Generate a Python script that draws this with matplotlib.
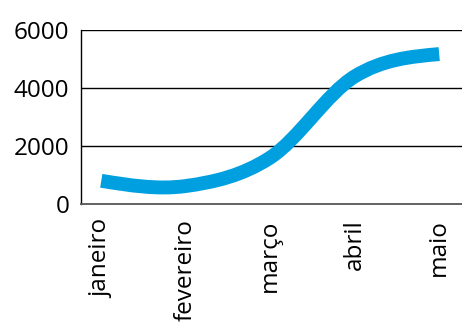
import matplotlib
matplotlib.use("Agg")
import matplotlib.pyplot as plt
from matplotlib.path import Path
from matplotlib.patches import PathPatch

categories = ["janeiro", "fevereiro", "março", "abril", "maio"]
values = [800, 620, 1600, 4400, 5170]
yticks = [0, 2000, 4000, 6000]

plt.rcParams['font.family'] = ['Open Sans', 'DejaVu Sans']

fig = plt.figure(figsize=(4.62, 3.22), dpi=100)
ax = fig.add_axes([81/462, 1-204/322, 1-81/462, (204-30)/322])

# smooth curve: cubic Bezier through the data points (Catmull-Rom inner
# tangents, natural end conditions)
xs = list(range(len(values)))
n = len(values)
def tangent(i):
    if i == 0:
        inner = (values[2] - values[0]) / 2
        return (3 * (values[1] - values[0]) - inner) / 2
    if i == n - 1:
        inner = (values[-1] - values[-3]) / 2
        return (3 * (values[-1] - values[-2]) - inner) / 2
    return (values[i+1] - values[i-1]) / 2
verts = [(xs[0], values[0])]
codes = [Path.MOVETO]
for i in range(n - 1):
    t0 = tangent(i); t1 = tangent(i + 1)
    verts += [(xs[i] + 1/3, values[i] + t0/3),
              (xs[i+1] - 1/3, values[i+1] - t1/3),
              (xs[i+1], values[i+1])]
    codes += [Path.CURVE4] * 3
patch = PathPatch(Path(verts, codes), facecolor='none', edgecolor='#009fe0',
                  linewidth=10, capstyle='butt', zorder=3)
ax.add_patch(patch)

ax.set_xlim(-0.24, 4.27)
ax.set_ylim(0, 6000)
ax.set_yticks(yticks)
ax.set_yticklabels([str(v) for v in yticks], fontsize=17.5)
ax.set_xticks(xs)
ax.set_xticklabels(categories, rotation=90, fontsize=17.5)
ax.tick_params(axis='both', length=0, colors='black')
ax.tick_params(axis='y', pad=8.5)
ax.tick_params(axis='x', pad=11)
for v in yticks[1:]:
    ax.axhline(v, color='black', linewidth=1.0, zorder=1)
ax.spines['top'].set_visible(False)
ax.spines['right'].set_visible(False)
ax.spines['left'].set_color('black')
ax.spines['left'].set_linewidth(1.0)
ax.spines['bottom'].set_color('#555555')
ax.spines['bottom'].set_linewidth(1.3)

fig.savefig("out.png", dpi=100)
